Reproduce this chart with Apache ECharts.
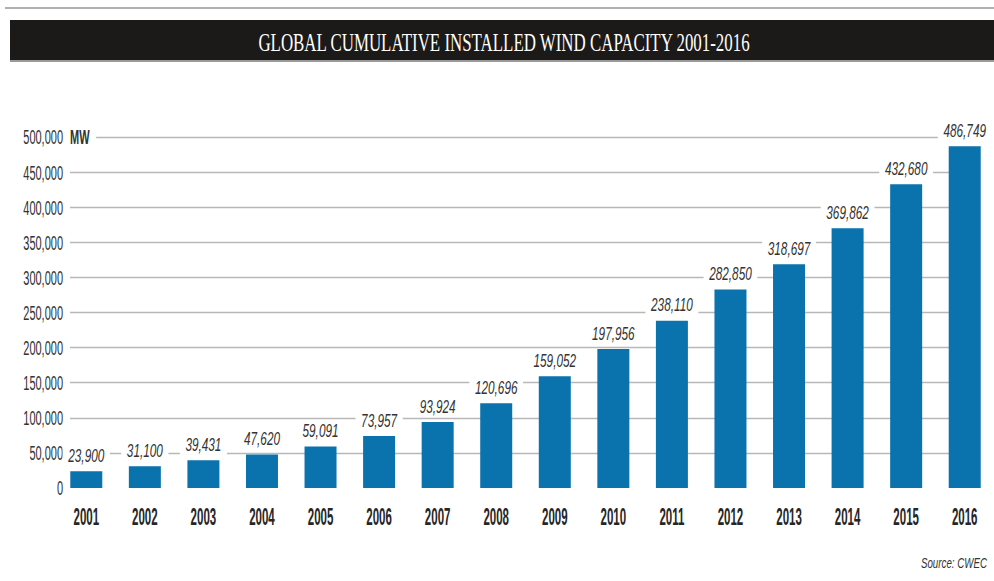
<!DOCTYPE html>
<html>
<head>
<meta charset="utf-8">
<script src="https://cdn.jsdelivr.net/npm/echarts@6/dist/echarts.min.js"></script>
<style>
  html, body { margin: 0; padding: 0; background: #ffffff; }
  #chart { width: 994px; height: 581px; }
</style>
</head>
<body>
<div id="chart"></div>
<script>
// Global cumulative installed wind capacity, MW
const years = ['2001', '2002', '2003', '2004', '2005', '2006', '2007', '2008',
               '2009', '2010', '2011', '2012', '2013', '2014', '2015', '2016'];
const capacity = [23900, 31100, 39431, 47620, 59091, 73957, 93924, 120696,
                  159052, 197956, 238110, 282850, 318697, 369862, 432680, 486749];
const yTicks = [0, 50000, 100000, 150000, 200000, 250000,
                300000, 350000, 400000, 450000, 500000];
const yMin = 0;
const yMax = 500000;
const yStep = 50000;
const unit = 'MW';
const titleText = 'GLOBAL CUMULATIVE INSTALLED WIND CAPACITY 2001-2016';
const sourceText = 'Source: CWEC';

const sans = '"Liberation Sans", Arial, sans-serif';
const fmt = v => v.toLocaleString('en-US');

const chart = echarts.init(document.getElementById('chart'), null, { renderer: 'svg' });

// condensed text helper (horizontal squeeze of a regular sans face)
function squeezed(x, y, text, opts) {
  return {
    type: 'text', x: x, y: y, scaleX: opts.scaleX,
    style: Object.assign({
      text: text, fill: '#333333', fontFamily: sans,
      verticalAlign: 'middle'
    }, opts.style)
  };
}

// value labels above the bars
function renderValueLabel(params, api) {
  const pt = api.coord([api.value(0), api.value(1)]);
  return squeezed(pt[0], pt[1] - 16, fmt(api.value(1)), {
    scaleX: 0.62,
    style: {
      fontStyle: 'italic', fontSize: 19, align: 'center',
      backgroundColor: '#ffffff', padding: [1, 9, 1, 9]
    }
  });
}

// year labels under the bars
function renderYearLabel(params, api) {
  const pt = api.coord([api.value(0), yMin]);
  return squeezed(pt[0], pt[1] + 29, years[params.dataIndex], {
    scaleX: 0.5,
    style: { fontSize: 23, fontWeight: 'bold', fill: '#262626', align: 'center' }
  });
}

// value-axis tick labels, with the unit next to the top one
function renderTickLabel(params, api) {
  const v = api.value(1);
  const pt = api.coord([0, v]);
  const children = [squeezed(pt[0] - 7, pt[1], fmt(v), {
    scaleX: 0.55,
    style: { fontSize: 20, align: 'right' }
  })];
  if (v === yMax) {
    children.push(squeezed(pt[0], pt[1], unit, {
      scaleX: 0.55,
      style: { fontSize: 20, fontWeight: 'bold', align: 'left',
               backgroundColor: '#ffffff', padding: [2, 12, 2, 0] }
    }));
  }
  return { type: 'group', children: children };
}

chart.setOption({
  backgroundColor: '#ffffff',
  animation: false,
  grid: [
    // gridlines + value-axis labels
    { left: 70, top: 137, width: 880, height: 351 },
    // bars
    { left: 57, top: 137, width: 939, height: 351 }
  ],
  xAxis: [
    { gridIndex: 0, type: 'value', show: false, min: 0, max: 1 },
    {
      gridIndex: 1, type: 'category', data: years,
      axisLine: { show: false }, axisTick: { show: false }, axisLabel: { show: false }
    }
  ],
  yAxis: [
    {
      gridIndex: 0, type: 'value', min: yMin, max: yMax, interval: yStep,
      axisLine: { show: false }, axisTick: { show: false }, axisLabel: { show: false },
      splitLine: { show: true, showMinLine: false, lineStyle: { color: '#b8b8b8', width: 1.3 } }
    },
    {
      gridIndex: 1, type: 'value', min: yMin, max: yMax, interval: yStep, show: false,
      splitLine: { show: false }
    }
  ],
  series: [
    {
      type: 'custom',
      xAxisIndex: 0,
      yAxisIndex: 0,
      data: yTicks.map(v => [0, v]),
      renderItem: renderTickLabel,
      z: 4,
      silent: true
    },
    {
      type: 'bar',
      xAxisIndex: 1,
      yAxisIndex: 1,
      data: capacity,
      barWidth: 32,
      itemStyle: { color: '#0a72ad' },
      z: 5
    },
    {
      type: 'custom',
      xAxisIndex: 1,
      yAxisIndex: 1,
      data: capacity.map((v, i) => [i, v]),
      renderItem: renderValueLabel,
      z: 6,
      silent: true
    },
    {
      type: 'custom',
      xAxisIndex: 1,
      yAxisIndex: 1,
      data: years.map((y, i) => [i, yMin]),
      renderItem: renderYearLabel,
      z: 6,
      silent: true
    }
  ],
  graphic: [
    { type: 'line', shape: { x1: 5, y1: 8, x2: 994, y2: 8 },
      style: { stroke: '#b0b0b0', lineWidth: 2 }, silent: true },
    { type: 'rect', shape: { x: 10, y: 20, width: 984, height: 40 },
      style: { fill: '#1b1a18' }, silent: true },
    { type: 'line', shape: { x1: 10, y1: 61, x2: 994, y2: 61 },
      style: { stroke: '#9a9a9a', lineWidth: 2 }, silent: true },
    { type: 'text', x: 504, y: 42, scaleX: 0.65, silent: true,
      style: { text: titleText, fill: '#ffffff', align: 'center', verticalAlign: 'middle',
               fontFamily: '"Liberation Serif", "DejaVu Serif", serif', fontSize: 26 } },
    { type: 'text', x: 987, y: 563, scaleX: 0.65, silent: true,
      style: { text: sourceText, fill: '#333333', align: 'right', verticalAlign: 'middle',
               fontFamily: sans, fontStyle: 'italic', fontSize: 15 } }
  ]
});
</script>
</body>
</html>
